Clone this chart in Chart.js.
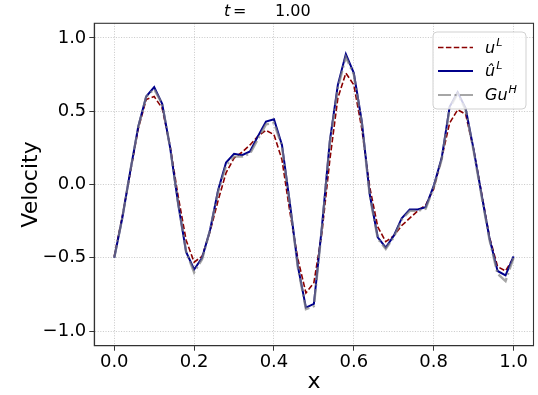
<!DOCTYPE html>
<html>
<head>
<meta charset="utf-8">
<script src="https://cdn.jsdelivr.net/npm/chart.js@4"></script>
<style>
  html, body { margin: 0; padding: 0; background: #fff; }
  #wrap { width: 538px; height: 395px; }
</style>
</head>
<body>
<div id="wrap"><canvas id="chart-body" width="538" height="395"></canvas></div>
<script>
// grid positions (x) and the three velocity series
const xValues = [
    0.00, 0.02, 0.04, 0.06, 0.08, 0.10, 0.12, 0.14, 0.16, 0.18,
    0.20, 0.22, 0.24, 0.26, 0.28, 0.30, 0.32, 0.34, 0.36, 0.38,
    0.40, 0.42, 0.44, 0.46, 0.48, 0.50, 0.52, 0.54, 0.56, 0.58,
    0.60, 0.62, 0.64, 0.66, 0.68, 0.70, 0.72, 0.74, 0.76, 0.78,
    0.80, 0.82, 0.84, 0.86, 0.88, 0.90, 0.92, 0.94, 0.96, 0.98,
    1.00
];

const uL = [
    -0.49, -0.22, 0.08, 0.38, 0.58, 0.60, 0.52, 0.26, -0.08, -0.38,
    -0.53, -0.49, -0.32, -0.11, 0.08, 0.18, 0.22, 0.27, 0.33, 0.37,
    0.34, 0.17, -0.19, -0.51, -0.74, -0.67, -0.33, 0.17, 0.59, 0.76,
    0.68, 0.38, -0.02, -0.29, -0.39, -0.35, -0.28, -0.23, -0.18, -0.14,
    -0.03, 0.18, 0.42, 0.51, 0.48, 0.24, -0.06, -0.36, -0.56, -0.59,
    -0.50
];

const uHatL = [
    -0.50, -0.23, 0.09, 0.395, 0.60, 0.665, 0.55, 0.25, -0.13, -0.46,
    -0.58, -0.50, -0.31, -0.04, 0.15, 0.21, 0.20, 0.225, 0.33, 0.43,
    0.445, 0.27, -0.13, -0.56, -0.84, -0.815, -0.29, 0.30, 0.68, 0.89,
    0.76, 0.43, -0.07, -0.36, -0.43, -0.35, -0.23, -0.17, -0.17, -0.155,
    -0.01, 0.18, 0.53, 0.63, 0.52, 0.24, -0.07, -0.37, -0.59, -0.62,
    -0.49
];

const GuH = [
    -0.50, -0.23, 0.09, 0.39, 0.60, 0.65, 0.55, 0.25, -0.13, -0.46,
    -0.60, -0.51, -0.31, -0.05, 0.13, 0.19, 0.19, 0.21, 0.31, 0.41,
    0.42, 0.26, -0.14, -0.57, -0.85, -0.83, -0.30, 0.29, 0.66, 0.87,
    0.75, 0.42, -0.08, -0.37, -0.44, -0.36, -0.24, -0.18, -0.18, -0.165,
    -0.02, 0.17, 0.52, 0.62, 0.51, 0.23, -0.08, -0.38, -0.61, -0.66,
    -0.50
];

const xTicks = [0.0, 0.2, 0.4, 0.6, 0.8, 1.0];
const yTicks = [-1.0, -0.5, 0.0, 0.5, 1.0];

const FONT = "'DejaVu Sans', 'Liberation Sans', sans-serif";
const RED = '#8b0000';
const BLUE = '#00008b';
const GREY = 'rgba(128,128,128,0.7)';

function toPoints(ys) {
    return ys.map((y, i) => ({ x: xValues[i], y: y }));
}

// mathtext-like label: list of [text, isSuperscript]
function drawMath(ctx, parts, x, y, size) {
    let cx = x;
    parts.forEach(([txt, sup]) => {
        const s = sup ? size * 0.7 : size;
        ctx.font = 'italic ' + s + 'px ' + FONT;
        ctx.fillText(txt, cx, sup ? y - size * 0.42 : y);
        cx += ctx.measureText(txt).width + (sup ? 0 : 1);
    });
}

const framePlugin = {
    id: 'frame',
    afterDatasetsDraw(chart) {
        const ctx = chart.ctx;
        const a = chart.chartArea;

        // legend box
        ctx.save();
        const lx = 433, ly = 32, lw = 93, lh = 77, r = 4;
        ctx.beginPath();
        ctx.moveTo(lx + r, ly);
        ctx.arcTo(lx + lw, ly, lx + lw, ly + lh, r);
        ctx.arcTo(lx + lw, ly + lh, lx, ly + lh, r);
        ctx.arcTo(lx, ly + lh, lx, ly, r);
        ctx.arcTo(lx, ly, lx + lw, ly, r);
        ctx.closePath();
        ctx.fillStyle = 'rgba(255,255,255,0.8)';
        ctx.fill();
        ctx.strokeStyle = 'rgba(204,204,204,0.9)';
        ctx.lineWidth = 1;
        ctx.stroke();

        const rows = [
            { y: 47.5, color: RED, width: 1.6, dash: [5.5, 2.4], parts: [['u', false], ['L', true]] },
            { y: 71, color: BLUE, width: 2, dash: [], parts: [['\u00fb', false], ['L', true]] },
            { y: 95, color: GREY, width: 2.2, dash: [13, 3.5, 2, 3.5], parts: [['Gu', false], ['H', true]] }
        ];
        rows.forEach(row => {
            ctx.beginPath();
            ctx.setLineDash(row.dash);
            ctx.strokeStyle = row.color;
            ctx.lineWidth = row.width;
            ctx.moveTo(438, row.y);
            ctx.lineTo(473, row.y);
            ctx.stroke();
            ctx.setLineDash([]);
            ctx.fillStyle = '#000';
            ctx.textBaseline = 'alphabetic';
            ctx.textAlign = 'left';
            drawMath(ctx, row.parts, 485, row.y + 5, 16);
        });

        // full axes frame
        ctx.strokeStyle = '#333';
        ctx.lineWidth = 1.1;
        ctx.strokeRect(a.left, a.top, a.right - a.left, a.bottom - a.top);
        ctx.restore();
    },
    afterDraw(chart) {
        const ctx = chart.ctx;
        ctx.save();
        ctx.fillStyle = '#000';
        ctx.textBaseline = 'alphabetic';
        ctx.textAlign = 'left';
        ctx.font = 'italic 16px ' + FONT;
        ctx.fillText('t', 224, 15.5);
        ctx.font = '16px ' + FONT;
        ctx.fillText('=', 233, 15.5);
        ctx.fillText('1.00', 275, 15.5);
        ctx.restore();
    }
};

function initializeChart() {
    const ctx = document.getElementById('chart-body').getContext('2d');
    const tickFont = { family: FONT, size: 18 };
    const gridOpts = {
        color: 'rgba(176,176,176,0.7)',
        lineWidth: 1,
        tickColor: '#333',
        tickLength: 5,
        tickWidth: 1,
        tickBorderDash: []
    };
    const borderOpts = { color: '#333', width: 1.1, dash: [1, 1.6] };

    window.chart = new Chart(ctx, {
        type: 'line',
        data: {
            datasets: [
                {
                    label: 'Gu^H',
                    data: toPoints(GuH),
                    borderColor: GREY,
                    borderWidth: 2.4,
                    borderDash: [13, 3.5, 2, 3.5],
                    order: 1
                },
                {
                    label: 'û^L',
                    data: toPoints(uHatL),
                    borderColor: BLUE,
                    borderWidth: 2,
                    order: 2
                },
                {
                    label: 'u^L',
                    data: toPoints(uL),
                    borderColor: RED,
                    borderWidth: 1.6,
                    borderDash: [5.5, 2.4],
                    order: 3
                }
            ]
        },
        options: {
            responsive: false,
            animation: { duration: 0 },
            events: [],
            elements: {
                point: { radius: 0 },
                line: { tension: 0, fill: false }
            },
            layout: { padding: { left: 0, right: 4.5, top: 23.3, bottom: 0 } },
            plugins: {
                legend: { display: false },
                title: { display: false },
                tooltip: { enabled: false }
            },
            scales: {
                x: {
                    type: 'linear',
                    min: -0.05,
                    max: 1.05,
                    afterBuildTicks: scale => { scale.ticks = xTicks.map(v => ({ value: v })); },
                    afterFit: scale => { scale.height = 49.3; },
                    ticks: {
                        color: '#000',
                        font: tickFont,
                        padding: 1,
                        maxRotation: 0,
                        callback: v => v.toFixed(1)
                    },
                    grid: gridOpts,
                    border: borderOpts,
                    title: {
                        display: true,
                        text: 'x',
                        color: '#000',
                        font: { family: FONT, size: 22 },
                        padding: { top: 0, bottom: 0 }
                    }
                },
                y: {
                    type: 'linear',
                    min: -1.1,
                    max: 1.1,
                    afterBuildTicks: scale => { scale.ticks = yTicks.map(v => ({ value: v })); },
                    afterFit: scale => { scale.width = 94.3; },
                    ticks: {
                        color: '#000',
                        font: tickFont,
                        padding: 3,
                        callback: v => v.toFixed(1).replace('-', '\u2212')
                    },
                    grid: gridOpts,
                    border: borderOpts,
                    title: {
                        display: true,
                        text: 'Velocity',
                        color: '#000',
                        font: { family: FONT, size: 22 },
                        padding: { top: 18, bottom: 0 }
                    }
                }
            }
        },
        plugins: [framePlugin]
    });
}

initializeChart();
</script>
</body>
</html>
